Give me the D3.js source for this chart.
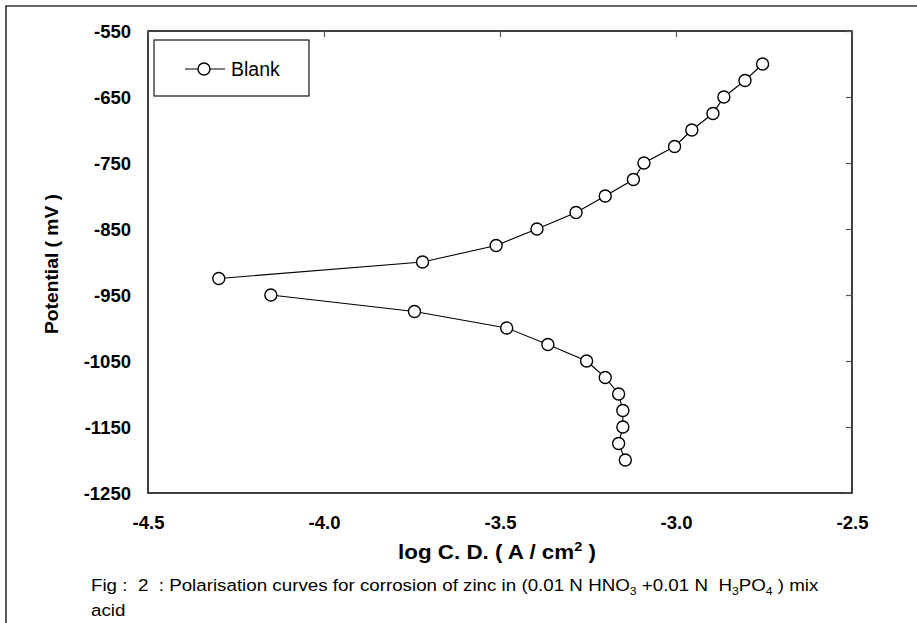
<!DOCTYPE html>
<html>
<head>
<meta charset="utf-8">
<script src="https://cdn.jsdelivr.net/npm/d3@7"></script>
<style>
  html, body { margin: 0; padding: 0; background: #fff; }
  svg { display: block; }
  text { font-family: "Liberation Sans", Arial, sans-serif; fill: #000; white-space: pre; }
</style>
</head>
<body>
<svg id="chart" width="917" height="623"></svg>
<script>
// ---- data ----
const seriesName = "Blank";
// anodic branch (upper)
const anodicLogCD = [-2.754, -2.804, -2.864, -2.895, -2.955, -3.004, -3.091, -3.121, -3.201, -3.284, -3.395, -3.511, -3.720, -4.299];
const anodicPotential = [-600, -625, -650, -675, -700, -725, -750, -775, -800, -825, -850, -875, -900, -925];
// cathodic branch (lower)
const cathodicLogCD = [-4.151, -3.743, -3.481, -3.364, -3.254, -3.201, -3.163, -3.151, -3.151, -3.163, -3.144];
const cathodicPotential = [-950, -975, -1000, -1025, -1050, -1075, -1100, -1125, -1150, -1175, -1200];
const xTicks = [-4.5, -4.0, -3.5, -3.0, -2.5];
const yTicks = [-550, -650, -750, -850, -950, -1050, -1150, -1250];

const svg = d3.select("#chart");
const pLeft = 148, pRight = 852, pTop = 31, pBottom = 493;

const x = d3.scaleLinear().domain([-4.5, -2.5]).range([pLeft, pRight]);
const y = d3.scaleLinear().domain([-1250, -550]).range([pBottom, pTop]);

const hy = s => s.replace("\u2212", "-");
const fmtX = d => hy(d3.format(".1f")(d));
const fmtY = d => hy(d3.format("d")(d));

// stretch a text horizontally to a target width (about its start or centre)
function stretchX(sel, targetW, ox) {
  const w = sel.node().getComputedTextLength();
  const s = targetW / w;
  sel.attr("transform", `translate(${ox},0) scale(${s},1) translate(${-ox},0)`);
}

// outer frame (left and top lines only)
svg.append("path")
  .attr("d", "M6,623 L6,6 L917,6")
  .attr("fill", "none").attr("stroke", "#333").attr("stroke-width", 1.6);

// plot frame
svg.append("rect")
  .attr("x", pLeft).attr("y", pTop).attr("width", pRight - pLeft).attr("height", pBottom - pTop)
  .attr("fill", "none").attr("stroke", "#000").attr("stroke-width", 1.5);

// inner ticks on top and right
const topAxis = d3.axisTop(x).tickValues(xTicks).tickSize(-6).tickFormat("");
svg.append("g").attr("transform", `translate(0,${pTop})`).call(topAxis)
  .call(g => g.select(".domain").remove())
  .call(g => g.selectAll("line").attr("stroke", "#555").attr("stroke-width", 1.2));
const rightAxis = d3.axisRight(y).tickValues(yTicks).tickSize(-6).tickFormat("");
svg.append("g").attr("transform", `translate(${pRight},0)`).call(rightAxis)
  .call(g => g.select(".domain").remove())
  .call(g => g.selectAll("line").attr("stroke", "#555").attr("stroke-width", 1.2));

// tick labels via axes (no tick lines)
const bottomAxis = d3.axisBottom(x).tickValues(xTicks).tickSize(0).tickPadding(0).tickFormat(fmtX);
svg.append("g").attr("transform", `translate(0,${pBottom})`).call(bottomAxis)
  .call(g => g.select(".domain").remove())
  .call(g => g.selectAll("text")
      .attr("y", 36).attr("dy", null)
      .style("font-family", "'Liberation Sans', Arial, sans-serif")
      .style("font-size", "18.5px").style("font-weight", "bold").attr("fill", "#000"));
const leftAxis = d3.axisLeft(y).tickValues(yTicks).tickSize(0).tickPadding(0).tickFormat(fmtY);
svg.append("g").attr("transform", `translate(${pLeft},0)`).call(leftAxis)
  .call(g => g.select(".domain").remove())
  .call(g => g.selectAll("text")
      .attr("x", -17).attr("dy", "0.35em")
      .style("font-family", "'Liberation Sans', Arial, sans-serif")
      .style("font-size", "18.5px").style("font-weight", "bold").attr("fill", "#000"));

// axis titles
const xtCx = 497;
const xt = svg.append("text")
  .attr("x", xtCx).attr("y", 559).attr("text-anchor", "middle")
  .style("font-size", "20px").style("font-weight", "bold");
xt.append("tspan").text("log C. D. ( A / cm");
xt.append("tspan").attr("dy", -8).style("font-size", "13px").text("2");
xt.append("tspan").attr("dy", 8).text(" )");
stretchX(xt, 198, xtCx);

const ytCy = 264;
const yt = svg.append("text")
  .attr("x", 0).attr("y", 0)
  .attr("text-anchor", "middle")
  .style("font-size", "18.5px").style("font-weight", "bold")
  .text("Potential ( mV )");
const ytw = yt.node().getComputedTextLength();
yt.attr("transform", `translate(58,${ytCy}) rotate(-90) scale(${140 / ytw},1)`);

// lines and markers
const line = d3.line().x(d => x(d[0])).y(d => y(d[1]));
const branches = [
  d3.zip(anodicLogCD, anodicPotential),
  d3.zip(cathodicLogCD, cathodicPotential)
];
branches.forEach(pts => {
  svg.append("path").datum(pts).attr("d", line)
    .attr("fill", "none").attr("stroke", "#000").attr("stroke-width", 1.1);
  svg.append("g").selectAll("circle").data(pts).join("circle")
    .attr("cx", d => x(d[0])).attr("cy", d => y(d[1])).attr("r", 6)
    .attr("fill", "#fff").attr("stroke", "#000").attr("stroke-width", 1.4);
});

// legend
const lg = svg.append("g");
lg.append("rect").attr("x", 154).attr("y", 40).attr("width", 155).attr("height", 56)
  .attr("fill", "#fff").attr("stroke", "#000").attr("stroke-width", 1.1);
lg.append("line").attr("x1", 185).attr("x2", 225).attr("y1", 69).attr("y2", 69)
  .attr("stroke", "#000").attr("stroke-width", 1.1);
lg.append("circle").attr("cx", 204).attr("cy", 69).attr("r", 6)
  .attr("fill", "#fff").attr("stroke", "#000").attr("stroke-width", 1.4);
lg.append("text").attr("x", 231).attr("y", 76).style("font-size", "19.5px").text(seriesName);

// caption
const capX = 91;
const cap = svg.append("text").attr("x", capX).attr("y", 591).style("font-size", "17px");
cap.append("tspan").text("Fig :  2  : Polarisation curves for corrosion of zinc in (0.01 N HNO");
cap.append("tspan").attr("dy", 4).style("font-size", "11px").text("3");
cap.append("tspan").attr("dy", -4).text(" +0.01 N  H");
cap.append("tspan").attr("dy", 4).style("font-size", "11px").text("3");
cap.append("tspan").attr("dy", -4).text("PO");
cap.append("tspan").attr("dy", 4).style("font-size", "11px").text("4");
cap.append("tspan").attr("dy", -4).text(" ) mix");
stretchX(cap, 728, capX);
const acid = svg.append("text").attr("x", capX).attr("y", 616).style("font-size", "17px").text("acid");
acid.attr("transform", cap.attr("transform"));
</script>
</body>
</html>
